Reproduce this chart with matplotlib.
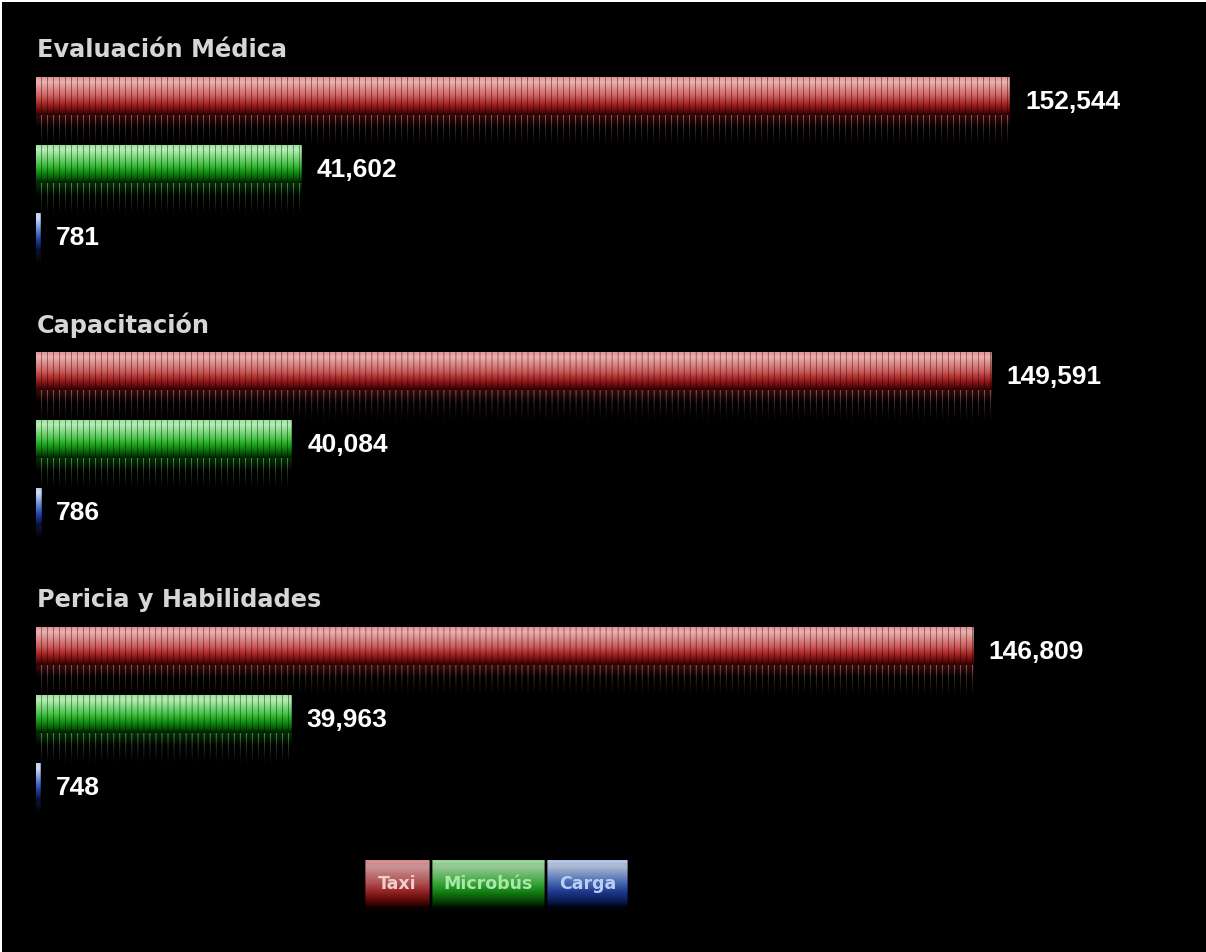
import numpy as np
import matplotlib
matplotlib.use("Agg")
import matplotlib.pyplot as plt
from matplotlib.patches import Rectangle

# ---- data -------------------------------------------------------------
groups = ["Evaluación Médica", "Capacitación", "Pericia y Habilidades"]
series = ["Taxi", "Microbús", "Carga"]
taxi = [152544, 149591, 146809]
microbus = [41602, 40084, 39963]
carga = [781, 786, 748]

values = [taxi, microbus, carga]

# ---- styling ----------------------------------------------------------
# colour stops (fraction from top of bar, rgb 0-255) for each series
stops = {
    "Taxi": [(0.0, (225, 150, 150)), (0.12, (238, 176, 176)), (0.5, (205, 95, 95)),
             (0.7, (170, 40, 40)), (0.88, (105, 12, 12)), (1.0, (50, 0, 0))],
    "Microbús": [(0.0, (160, 228, 160)), (0.12, (180, 238, 180)), (0.5, (70, 195, 70)),
                 (0.7, (20, 150, 20)), (0.88, (8, 85, 8)), (1.0, (0, 35, 0))],
    "Carga": [(0.0, (190, 210, 245)), (0.12, (205, 222, 250)), (0.5, (80, 120, 205)),
              (0.7, (35, 65, 165)), (0.88, (15, 35, 100)), (1.0, (0, 12, 45))],
}
legend_text_colors = {"Taxi": "#f2cccc", "Microbús": "#a8e8a8", "Carga": "#b8cff2"}

W, H = 1206, 952
X0 = 36                      # pixel where value 0 sits
SCALE = 974.0 / 152544.0     # pixels per unit
GROUP_TOP = 50               # first group title centre
GROUP_GAP = 275
BAR_OFFSET = 27              # title centre -> first bar top
ROW_GAP = 68
MAIN_H = 38
REFL_H = 32
STRIPE = 6


def gradient(name, n):
    t = np.linspace(0, 1, n)
    st = stops[name]
    pos = [s[0] for s in st]
    cols = np.array([s[1] for s in st], dtype=float) / 255.0
    return np.stack([np.interp(t, pos, cols[:, k]) for k in range(3)], axis=1)


def bar_image(name, width_px):
    width_px = max(int(round(width_px)), 2)
    cols = np.arange(width_px)
    stripe = (cols % STRIPE) == (STRIPE - 1)
    main = np.repeat(gradient(name, MAIN_H)[:, None, :], width_px, axis=1)
    main[:, stripe, :] *= 0.62
    main[:, -1, :] *= 0.75

    base = np.array(stops[name][3][1], dtype=float) / 255.0
    refl = np.zeros((REFL_H, width_px, 3))
    depth = np.linspace(0, 1, REFL_H)
    glow = np.clip(1 - depth * 2.5, 0, 1) * 0.3
    refl += glow[:, None, None] * base[None, None, :]
    line_int = 0.55 * (1 - depth) ** 1.1
    line_col = 0.45 * base + 0.55 * np.array([0.8, 0.8, 0.8])
    refl[:, stripe, :] += line_int[:, None, None] * line_col[None, None, :]
    refl = np.clip(refl, 0, 1)
    return np.concatenate([main, refl], axis=0)


fig = plt.figure(figsize=(W / 100, H / 100), dpi=100, facecolor="black")
ax = fig.add_axes([0, 0, 1, 1])
ax.set_facecolor("black")

for g, gname in enumerate(groups):
    title_y = GROUP_TOP + g * GROUP_GAP
    ax.text(-X0 / SCALE + 37 / SCALE, title_y, gname, color="#d6d6d6",
            fontsize=17.3, fontweight="bold", family="DejaVu Sans",
            va="center", ha="left")
    for s, sname in enumerate(series):
        v = values[s][g]
        top = title_y + BAR_OFFSET + s * ROW_GAP
        img = bar_image(sname, v * SCALE)
        ax.imshow(img, extent=(0, v, top + MAIN_H + REFL_H, top),
                  origin="upper", aspect="auto", interpolation="antialiased")
        ax.annotate(f"{v:,}", xy=(v, top + MAIN_H / 2 + 6), xytext=(11, 0),
                    textcoords="offset points", color="white", fontsize=19,
                    fontweight="bold", family="Liberation Sans",
                    va="center", ha="left")

ax.set_xlim(-X0 / SCALE, (W - X0) / SCALE)
ax.set_ylim(H, 0)
ax.axis("off")

# ---- legend and frame in pixel space ---------------------------------
lax = fig.add_axes([0, 0, 1, 1])
lax.patch.set_alpha(0)
boxes = {"Taxi": (365, 430), "Microbús": (432, 545), "Carga": (547, 628)}
box_top, box_h, shade_h = 860, 46, 8
for sname in series:
    x_a, x_b = boxes[sname]
    grad = gradient(sname, box_h) * 0.85
    grad[:3] = grad[:3] * 1.1
    img = np.repeat(grad[:, None, :], x_b - x_a, axis=1)
    img[:, 0, :] *= 0.6
    img[:, -1, :] *= 0.6
    shade = np.linspace(0.35, 0, shade_h)[:, None, None] * img[-1:, :, :]
    img = np.clip(np.concatenate([img, shade], axis=0), 0, 1)
    lax.imshow(img, extent=(x_a, x_b, box_top + box_h + shade_h, box_top),
               origin="upper", aspect="auto", interpolation="antialiased")
    lax.text((x_a + x_b) / 2, box_top + 24, sname, color=legend_text_colors[sname],
             fontsize=12.5, fontweight="bold", family="DejaVu Sans",
             ha="center", va="center")

lax.add_patch(Rectangle((0, 0), W, 2, color="white", lw=0))
lax.add_patch(Rectangle((0, 0), 1.5, H, color="white", lw=0))
lax.set_xlim(0, W)
lax.set_ylim(H, 0)
lax.axis("off")

fig.savefig("out.png", dpi=100, facecolor="black")
